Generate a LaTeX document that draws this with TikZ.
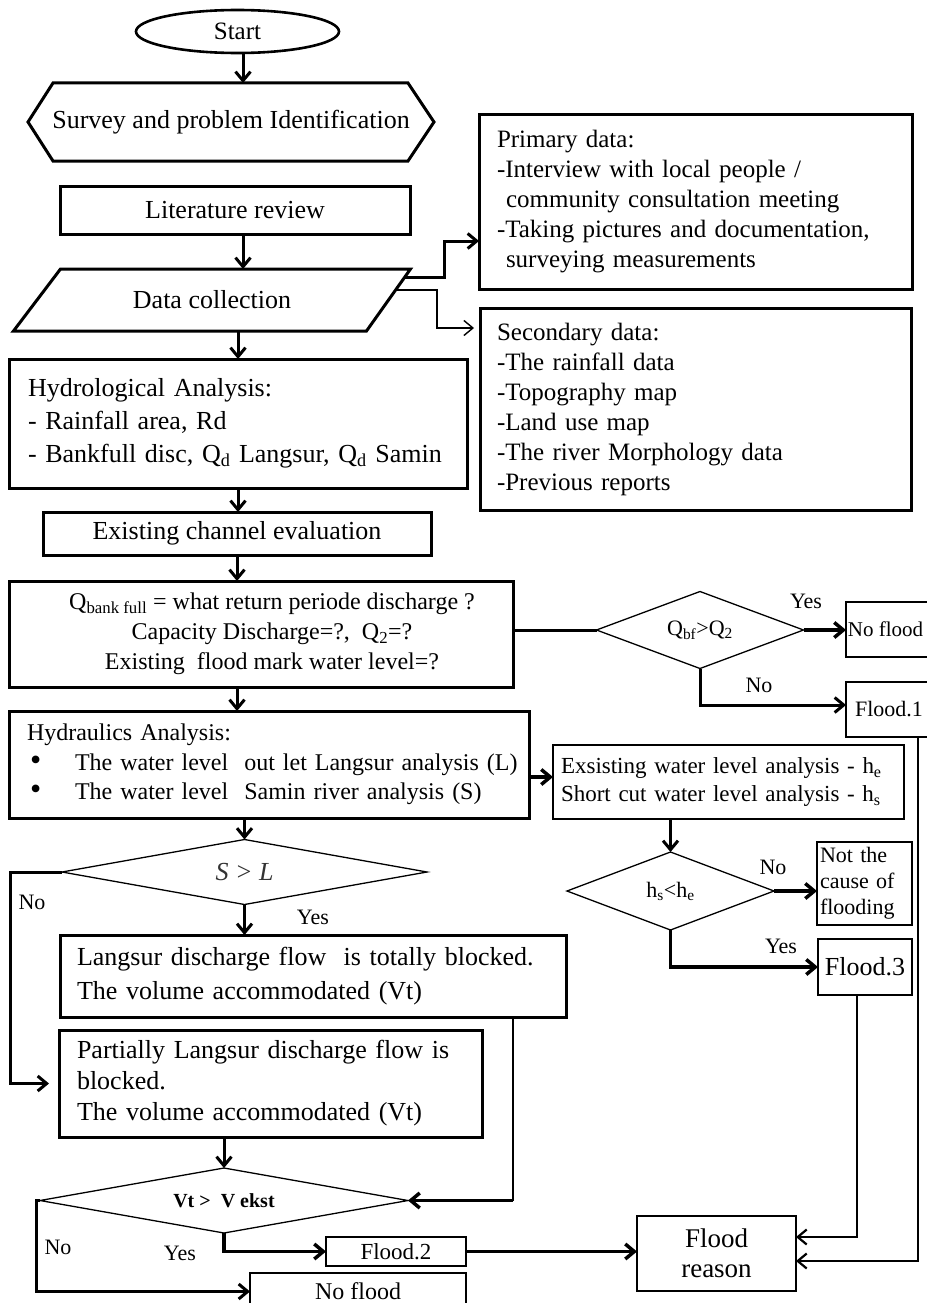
\documentclass[tikz,border=0pt]{standalone}
\usepackage{fontspec}
\setmainfont{Liberation Serif}
\usetikzlibrary{arrows.meta,shapes.geometric,calc}
\newcommand{\fsz}[2]{\fontsize{#1}{#2}\selectfont}
\newcommand{\bul}{\makebox[48pt][l]{\hspace*{3pt}{\fsz{32}{32}\textbullet}}}
\begin{document}
\begin{tikzpicture}[x=1pt,y=-1pt,
  every node/.style={inner sep=0pt, outer sep=0pt},
  tk/.style={line width=3pt},
  arr/.style={-{Straight Barb[length=9pt,width=15pt]}},
  bx/.style={draw, line width=3pt},
  thinbx/.style={draw, line width=1.8pt},
  lbl/.style={font=\fsz{22}{22}},
  dia/.style={line width=1.3pt, line join=miter}
]
\fill[white] (0,0) rectangle (926,1303);
\useasboundingbox (0,0) rectangle (926,1303);

% ---------- nodes ----------
\node[draw, ellipse, line width=2.6pt, minimum width=203pt, minimum height=43pt, font=\fsz{25}{25}] (start) at (237.5,31.5) {Start};

\node[minimum width=406pt, minimum height=78pt, font=\fsz{26}{26}] (survey) at (231,122) {Survey and problem Identification};
\draw[line width=3pt, line join=miter] (survey.west) -- ([xshift=25pt]survey.north west) -- ([xshift=-26pt]survey.north east) -- (survey.east) -- ([xshift=-26pt]survey.south east) -- ([xshift=25pt]survey.south west) -- cycle;

\node[bx, minimum width=350pt, minimum height=48pt, font=\fsz{26}{26}] (lit) at (235,210) {Literature review};

\node[minimum width=397pt, minimum height=62pt, font=\fsz{26}{26}] (data) at (212,300) {Data collection};
\draw[line width=3pt, line join=miter] ([xshift=47pt]data.north west) -- (data.north east) -- ([xshift=-44pt]data.south east) -- (data.south west) -- cycle;

\node[bx, minimum width=433pt, minimum height=174pt, text width=397pt, inner xsep=18pt, align=left, font=\fsz{25}{30}] (primary) at (695.5,202) {Primary data:\\-Interview with local people /\\\hspace*{9pt}community consultation meeting\\-Taking pictures and documentation,\\\hspace*{9pt}surveying measurements};

\node[bx, minimum width=431pt, minimum height=202pt, text width=397pt, inner xsep=17pt, align=left, font=\fsz{25}{30}] (secondary) at (695.5,409) {Secondary data:\\-The rainfall data\\-Topography map\\-Land use map\\-The river Morphology data\\-Previous reports};

\node[bx, minimum width=458pt, minimum height=129pt, text width=420pt, inner xsep=19pt, align=left, font=\fsz{26}{33}] (hydro) at (238,423.5) {Hydrological Analysis:\\- Rainfall area, Rd\\- Bankfull disc, Q\textsubscript{d} Langsur, Q\textsubscript{d} Samin};

\node[bx, minimum width=388pt, minimum height=43pt, font=\fsz{26}{26}] (exist) at (237,533.5) {Existing channel evaluation};

\node[bx, minimum width=504pt, minimum height=106pt, align=center, font=\fsz{24}{30}] (qbox) at (261,634) {\hspace*{22pt}Q\textsubscript{bank full} = what return periode discharge ?\\\hspace*{22pt}Capacity Discharge=?,~~Q\textsubscript{2}=?\\\hspace*{22pt}Existing~~flood mark water level=?};

\node[minimum width=207pt, minimum height=77pt, font=\fsz{22}{22}] (qdia) at (700,630) {Q\textsubscript{bf}>Q\textsubscript{2}};
\draw[dia] (qdia.north) -- (qdia.east) -- (qdia.south) -- (qdia.west) -- cycle;

\node[thinbx, minimum width=94pt, minimum height=55pt, font=\fsz{21}{21}] (noflood1) at (893,629.5) {No flood\hspace*{15pt}};
\node[thinbx, minimum width=94pt, minimum height=55pt, font=\fsz{22}{22}] (flood1) at (893,709.5) {Flood.1\hspace*{8pt}};

\node[bx, minimum width=520pt, minimum height=107pt, text width=504pt, inner xsep=8pt, align=left, font=\fsz{24}{29.5}] (hydra) at (269,764.5) {\hspace*{10pt}Hydraulics Analysis:\\\hspace*{10pt}\bul The water level~ out let Langsur analysis (L)\\\hspace*{10pt}\bul The water level~ Samin river analysis (S)};

\node[thinbx, minimum width=351pt, minimum height=74pt, text width=335pt, inner xsep=8pt, align=left, font=\fsz{23}{28}] (exsist) at (728.5,782) {Exsisting water level analysis - h\textsubscript{e}\\Short cut water level analysis - h\textsubscript{s}};

\node[minimum width=207pt, minimum height=78pt, font=\fsz{22}{22}] (hdia) at (670.5,891) {h\textsubscript{s}<h\textsubscript{e}};
\draw[dia] (hdia.north) -- (hdia.east) -- (hdia.south) -- (hdia.west) -- cycle;

\node[thinbx, minimum width=95pt, minimum height=83pt, text width=89pt, inner xsep=3pt, align=left, font=\fsz{22}{26}] (notcause) at (864.5,883.5) {Not the\\cause of\\flooding};

\node[draw, line width=2pt, minimum width=94pt, minimum height=56pt, font=\fsz{26}{26}] (flood3) at (865,967) {Flood.3};

\node[minimum width=365pt, minimum height=65pt, font=\fsz{26}{26}\itshape, text=black!80] (sdia) at (244.5,872) {S > L};
\draw[dia] (sdia.north) -- (sdia.east) -- (sdia.south) -- (sdia.west) -- cycle;

\node[bx, minimum width=506pt, minimum height=82pt, text width=472pt, inner xsep=17pt, align=left, font=\fsz{26}{34}] (lang) at (313,976) {Langsur discharge flow~ is totally blocked.\\The volume accommodated (Vt)};

\node[bx, minimum width=423pt, minimum height=107pt, text width=387pt, inner xsep=18pt, align=left, font=\fsz{26}{31}] (partial) at (270.5,1083.5) {Partially Langsur discharge flow is\\blocked.\\The volume accommodated (Vt)};

\node[minimum width=368pt, minimum height=65pt, font=\fsz{20}{20}\bfseries] (vdia) at (224,1200.5) {Vt >~ V ekst};
\draw[dia] (vdia.north) -- (vdia.east) -- (vdia.south) -- (vdia.west) -- cycle;

\node[draw, line width=2.4pt, minimum width=140pt, minimum height=29pt, font=\fsz{23}{23}] (flood2) at (396,1251.5) {Flood.2};
\node[draw, line width=2.4pt, minimum width=216pt, minimum height=37pt, font=\fsz{24}{24}] (noflood2) at (358,1291.5) {No flood};
\node[thinbx, minimum width=159pt, minimum height=75pt, align=center, font=\fsz{27}{30}] (reason) at (716.5,1253.5) {Flood\\reason};

% ---------- labels ----------
\node[lbl] (yes1) at (806,601) {Yes};
\node[lbl] (no1) at (759,685) {No};
\node[lbl] (no2) at (773,867) {No};
\node[lbl] (yes2) at (781,946) {Yes};
\node[lbl] (no3) at (32,902) {No};
\node[lbl] (yes3) at (313,917) {Yes};
\node[lbl] (no4) at (58,1247) {No};
\node[lbl] (yes4) at (180,1253) {Yes};

% ---------- connectors ----------
\draw[tk,arr] ([xshift=5.5pt]start.south) -- ([xshift=5.5pt]start.south |- survey.north);
\draw[tk,arr] ([xshift=8pt]lit.south) -- ([xshift=8pt]lit.south |- data.north);

\coordinate (dR1) at ($(data.north east)!0.13!([xshift=-44pt]data.south east)$);
\coordinate (dR2) at ($(data.north east)!0.34!([xshift=-44pt]data.south east)$);
\coordinate (j1) at (444,241);
\coordinate (j2) at (437,328);
\draw[tk,arr] (dR1) -| (j1) -- (j1 -| primary.west);
\draw[line width=1.4pt,arr,shorten >=6pt] (dR2) -| (j2) -- (j2 -| secondary.west);

\draw[tk,arr] (hydro.north |- data.south) -- (hydro.north);
\draw[tk,arr] (hydro.south) -- (hydro.south |- exist.north);
\draw[tk,arr] (exist.south) -- (exist.south |- qbox.north);
\draw[tk] (qdia.west -| qbox.east) -- (qdia.west);
\draw[line width=3.5pt,arr] (qdia.east) -- (qdia.east -| noflood1.west);
\draw[tk,arr] (qdia.south) |- ([yshift=4.5pt]flood1.west);
\draw[tk,arr] (exist.south |- qbox.south) -- (exist.south |- hydra.north);
\draw[line width=3.5pt,arr] ([yshift=5pt]exsist.west -| hydra.east) -- ([yshift=5pt]exsist.west);
\draw[tk,arr] (hdia.north |- exsist.south) -- (hdia.north);
\draw[line width=3.5pt,arr] (hdia.east) -- (hdia.east -| notcause.west);
\draw[line width=3.5pt,arr] (hdia.south) |- (flood3.west);

\coordinate (f3b) at ([xshift=-8pt]flood3.south);
\coordinate (reU) at ([yshift=16.5pt]reason.east);
\coordinate (f1b) at ([xshift=25pt]flood1.south);
\coordinate (reL) at ([yshift=-7.5pt]reason.east);
\draw[line width=2.2pt,arr] (f3b) |- (reU);
\draw[line width=2.2pt,arr] (f1b) |- (reL);

\draw[tk,arr] (sdia.north |- hydra.south) -- (sdia.north);
\draw[tk,arr] (sdia.south) -- (sdia.south |- lang.north);
\draw[tk,arr,shorten >=10pt] (sdia.west) -- ++(-52,0) |- (partial.west);

\coordinate (lb) at ([xshift=200pt]lang.south);
\draw[line width=1.4pt] (lb) -- (lb |- vdia.east);
\draw[line width=3.5pt,arr] (lb |- vdia.east) -- (vdia.east);

\draw[tk,arr] (vdia.north |- partial.south) -- (vdia.north);
\draw[line width=3.5pt,arr] (vdia.south) |- (flood2.west);
\draw[tk,arr] (vdia.west) -- ++(-4,0) |- (noflood2.west);
\draw[line width=3.5pt,arr] (flood2.east) -- (flood2.east -| reason.west);
\end{tikzpicture}
\end{document}
